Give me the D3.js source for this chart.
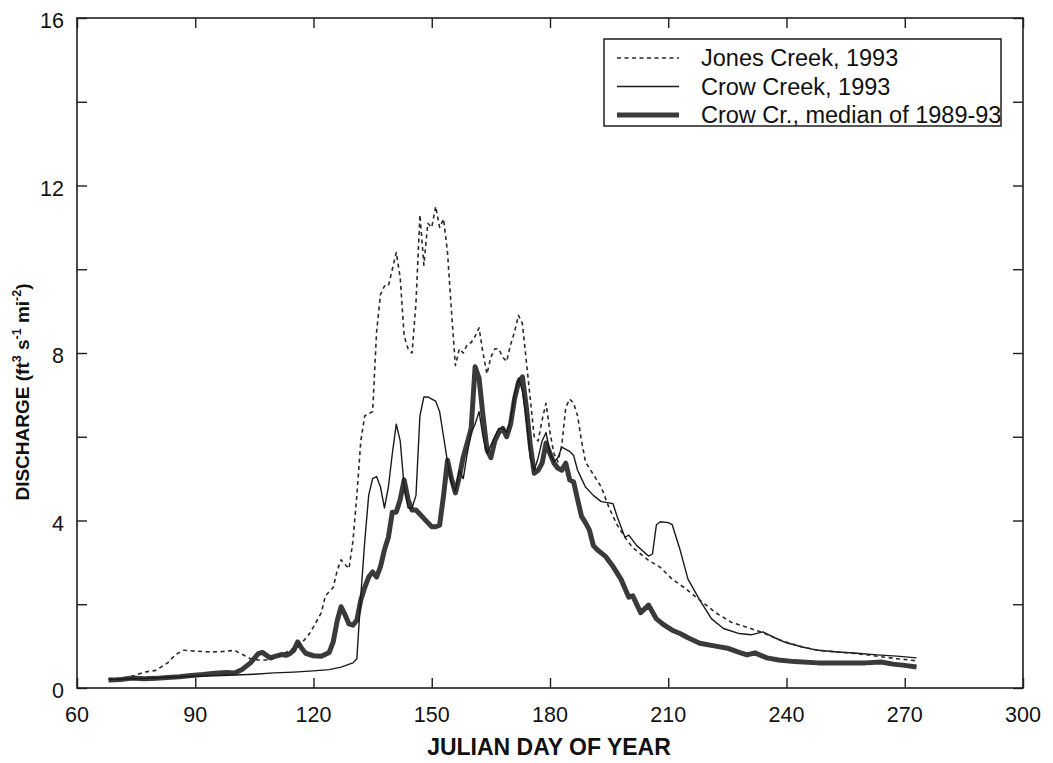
<!DOCTYPE html>
<html>
<head>
<meta charset="utf-8">
<script src="https://cdn.jsdelivr.net/npm/d3@7"></script>
<style>
  html, body { margin: 0; padding: 0; background: #ffffff; }
  svg { display: block; font-family: "Liberation Sans", Arial, Helvetica, sans-serif; }
</style>
</head>
<body>
<svg id="chart" width="1053" height="763"></svg>
<script>
// ---------------- data ----------------
const xTicks = [60, 90, 120, 150, 180, 210, 240, 270, 300];
const yTicksLabeled = [0, 4, 8, 12, 16];
const yTicksAll = [0, 2, 4, 6, 8, 10, 12, 14, 16];

const seriesNames = ["Jones Creek, 1993", "Crow Creek, 1993", "Crow Cr., median of 1989-93"];

const jonesDays = [68,72,74,77,80,83,85,87,90,94,97,100,102,104,106,109,112,115,117,119,120,122,123,125,126,127,128,129,130,131,132,133,134,135,136,137,138,139,140,141,142,143,144,145,146,147,148,149,150,151,152,153,154,155,156,157,158,159,160,161,162,163,164,165,166,167,168,169,170,171,172,173,174,175,176,177,178,179,180,181,182,183,184,185,186,187,188,189,191,193,195,197,199,201,203,205,208,211,214,218,222,226,230,234,239,244,248,253,258,263,268,273];
const jonesQ    = [0.22,0.24,0.28,0.38,0.42,0.6,0.8,0.9,0.88,0.86,0.87,0.9,0.8,0.7,0.67,0.67,0.8,0.95,1.07,1.3,1.46,1.8,2.2,2.4,2.8,3.06,2.95,2.85,3.5,4.6,5.9,6.5,6.55,6.6,8.5,9.4,9.6,9.6,10.0,10.4,9.8,8.4,8.1,8.0,9.2,11.3,10.1,11.1,11.0,11.5,11.0,11.2,10.4,9.0,7.7,8.1,8.0,8.2,8.25,8.4,8.6,8.0,7.5,7.9,8.1,8.1,7.9,7.8,8.2,8.5,8.9,8.7,7.8,6.9,6.0,5.9,6.4,6.8,6.1,5.6,5.4,5.8,6.7,6.9,6.8,6.5,5.9,5.4,5.1,4.8,4.3,3.9,3.6,3.35,3.2,3.05,2.88,2.6,2.4,2.1,1.8,1.57,1.45,1.32,1.12,0.98,0.9,0.86,0.82,0.76,0.7,0.65];

const crowDays = [68,75,82,90,97,100,105,110,115,120,124,127,130,131,132,133,134,135,136,137,138,139,140,141,142,143,144,145,146,147,148,149,150,151,152,153,154,155,156,157,158,159,160,161,162,163,164,165,166,167,168,169,170,171,172,173,174,175,176,177,178,179,180,181,182,183,184,185,186,187,188,189,191,193,195,196,197,199,200,202,205,206,207,208,210,211,213,215,218,221,224,228,231,234,237,240,244,248,253,258,263,268,273];
const crowQ    = [0.2,0.22,0.25,0.28,0.3,0.31,0.33,0.36,0.38,0.41,0.44,0.5,0.6,0.7,2.2,3.5,4.6,5.0,5.05,4.8,4.3,4.8,5.6,6.3,5.9,4.8,4.3,4.3,4.6,6.5,6.95,6.95,6.9,6.85,6.6,6.0,5.4,4.9,4.7,5.2,5.0,5.6,6.1,6.3,6.6,6.0,5.6,5.8,6.0,6.2,6.2,6.1,6.4,7.0,7.4,7.1,6.4,5.5,5.2,5.5,5.9,6.1,5.6,5.4,5.5,5.75,5.7,5.65,5.55,5.2,5.0,4.8,4.6,4.45,4.42,4.4,4.1,3.6,3.65,3.4,3.15,3.2,3.9,3.97,3.95,3.9,3.3,2.6,2.1,1.65,1.42,1.3,1.27,1.34,1.2,1.08,0.98,0.9,0.86,0.83,0.79,0.76,0.72];

const medianDays = [68,71,74,77,80,83,86,89,92,95,98,100,102,104,106,107,109,110,112,113,114,115,116,117,118,120,122,124,125,126,127,128,129,130,131,132,133,134,135,136,137,138,139,140,141,142,143,144,145,146,147,148,149,150,151,152,153,154,155,156,157,158,159,160,161,162,163,164,165,166,167,168,169,170,171,172,173,174,175,176,177,178,179,180,181,182,183,184,185,186,187,188,189,190,191,192,194,196,198,200,201,203,205,207,209,211,213,215,218,222,225,228,230,232,235,238,242,248,255,260,264,267,270,273];
const medianQ    = [0.19,0.2,0.24,0.22,0.23,0.25,0.27,0.3,0.32,0.35,0.37,0.36,0.45,0.6,0.82,0.85,0.72,0.75,0.8,0.78,0.82,0.9,1.1,0.95,0.83,0.77,0.76,0.85,1.1,1.6,1.94,1.75,1.53,1.5,1.62,2.1,2.4,2.65,2.77,2.65,2.9,3.3,3.6,4.2,4.2,4.5,4.97,4.5,4.25,4.25,4.15,4.05,3.95,3.85,3.85,3.89,4.6,5.44,5.0,4.66,5.04,5.52,5.85,6.2,7.67,7.4,6.5,5.7,5.5,5.9,6.1,6.2,6.0,6.3,6.9,7.3,7.43,6.7,5.8,5.13,5.2,5.37,5.85,5.6,5.37,5.25,5.2,5.37,4.97,4.92,4.5,4.1,3.95,3.77,3.4,3.3,3.15,2.9,2.6,2.17,2.2,1.8,1.98,1.65,1.5,1.38,1.3,1.2,1.07,1.0,0.95,0.85,0.79,0.84,0.72,0.67,0.63,0.6,0.6,0.6,0.62,0.57,0.54,0.5];

// ---------------- layout ----------------
const svg = d3.select("#chart");
const padL = 77, padR = 1023, padT = 18, padB = 688;
const x = d3.scaleLinear().domain([60, 300]).range([padL, padR]);
const y = d3.scaleLinear().domain([0, 16]).range([padB, padT]);
const ink = "#1e1e1e";

// frame
svg.append("rect")
  .attr("x", padL).attr("y", padT)
  .attr("width", padR - padL).attr("height", padB - padT)
  .attr("fill", "none").attr("stroke", ink).attr("stroke-width", 1.6);

// axes with inward ticks
const tickLen = 10;
svg.append("g").attr("transform", `translate(0,${padB})`)
  .call(d3.axisBottom(x).tickValues(xTicks).tickSize(-tickLen).tickFormat(""))
  .call(g => g.select(".domain").remove());
svg.append("g").attr("transform", `translate(0,${padT})`)
  .call(d3.axisTop(x).tickValues(xTicks).tickSize(-tickLen).tickFormat(""))
  .call(g => g.select(".domain").remove());
svg.append("g").attr("transform", `translate(${padL},0)`)
  .call(d3.axisLeft(y).tickValues(yTicksAll).tickSize(-tickLen).tickFormat(""))
  .call(g => g.select(".domain").remove());
svg.append("g").attr("transform", `translate(${padR},0)`)
  .call(d3.axisRight(y).tickValues(yTicksAll).tickSize(-tickLen).tickFormat(""))
  .call(g => g.select(".domain").remove());
svg.selectAll(".tick line").attr("stroke", ink).attr("stroke-width", 1.4);

// tick labels
svg.append("g").selectAll("text").data(xTicks).join("text")
  .attr("x", d => x(d)).attr("y", 722)
  .attr("text-anchor", "middle").attr("font-size", 21.5).attr("fill", "#111")
  .text(d => d);
svg.append("g").selectAll("text").data(yTicksLabeled).join("text")
  .attr("x", 64).attr("y", d => y(d) + 10)
  .attr("text-anchor", "end").attr("font-size", 21.5).attr("fill", "#111")
  .text(d => d);

// axis titles
svg.append("text")
  .attr("x", 549).attr("y", 755)
  .attr("text-anchor", "middle").attr("font-size", 23).attr("font-weight", "bold").attr("fill", "#111")
  .text("JULIAN DAY OF YEAR");

const yt = svg.append("text")
  .attr("transform", "translate(29,392) rotate(-90)")
  .attr("text-anchor", "middle").attr("font-size", 19).attr("font-weight", "bold").attr("fill", "#111");
yt.append("tspan").text("DISCHARGE (ft");
yt.append("tspan").attr("font-size", 12.5).attr("dy", -8).text("3");
yt.append("tspan").attr("dy", 8).text(" s");
yt.append("tspan").attr("font-size", 12.5).attr("dy", -8).text("-1");
yt.append("tspan").attr("dy", 8).text(" mi");
yt.append("tspan").attr("font-size", 12.5).attr("dy", -8).text("-2");
yt.append("tspan").attr("dy", 8).text(")");

// ---------------- lines ----------------
const line = d3.line().x(d => x(d[0])).y(d => y(d[1]));
const toPts = (days, q, name) => {
  if (days.length !== q.length) throw new Error(name + " length mismatch " + days.length + " vs " + q.length);
  return days.map((d, i) => [d, q[i]]);
};

const styles = [
  { stroke: "#2a2a2a", width: 1.6, dash: "4,3.5" },
  { stroke: "#1a1a1a", width: 1.4, dash: null },
  { stroke: "#3a3a3a", width: 5, dash: null }
];
const drawOrder = [
  { pts: toPts(medianDays, medianQ, "median"), style: styles[2] },
  { pts: toPts(crowDays, crowQ, "crow"), style: styles[1] },
  { pts: toPts(jonesDays, jonesQ, "jones"), style: styles[0] }
];
drawOrder.forEach(s => {
  svg.append("path").datum(s.pts)
    .attr("d", line)
    .attr("fill", "none")
    .attr("stroke", s.style.stroke)
    .attr("stroke-width", s.style.width)
    .attr("stroke-linejoin", "round")
    .attr("stroke-dasharray", s.style.dash);
});

// ---------------- legend ----------------
const lg = svg.append("g");
lg.append("rect").attr("x", 604).attr("y", 39).attr("width", 397).attr("height", 87)
  .attr("fill", "#fff").attr("stroke", ink).attr("stroke-width", 1.5);
const rowY = [58, 86.5, 115];
seriesNames.forEach((name, i) => {
  const s = styles[i];
  lg.append("line").attr("x1", 617).attr("x2", 679).attr("y1", rowY[i]).attr("y2", rowY[i])
    .attr("stroke", s.stroke).attr("stroke-width", s.width).attr("stroke-dasharray", s.dash);
  lg.append("text").attr("x", 701).attr("y", rowY[i] + 8)
    .attr("font-size", 23.5).attr("fill", "#111").text(name);
});
</script>
</body>
</html>
